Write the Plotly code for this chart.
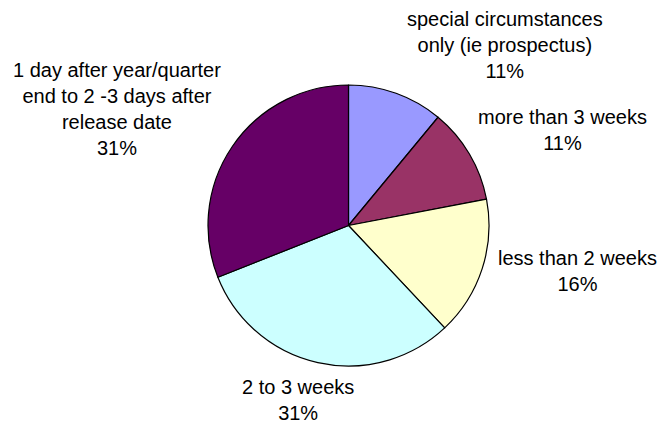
import plotly.graph_objects as go

# Timing of disclosure responses (share of respondents, %)
categories = [
    "special circumstances<br>only (ie prospectus)",
    "more than 3 weeks",
    "less than 2 weeks",
    "2 to 3 weeks",
    "1 day after year/quarter<br>end to 2 -3 days after<br>release date",
]
shares = [11, 11, 16, 31, 31]
colors = ["#9999FF", "#993366", "#FFFFCC", "#CCFFFF", "#660066"]

# Label anchor points (pixel positions) for each category's text block
label_x = [505, 562, 577, 298, 117]
label_y = [45, 130, 271, 400, 109]

W, H = 663, 426
cx, cy, r = 348.5, 225.5, 140.5

fig = go.Figure(
    go.Pie(
        labels=categories,
        values=shares,
        sort=False,
        direction="clockwise",
        rotation=0,
        marker=dict(colors=colors, line=dict(color="#000000", width=1.2)),
        textinfo="none",
        hoverinfo="label+percent",
        showlegend=False,
        domain=dict(x=[(cx - r) / W, (cx + r) / W], y=[1 - (cy + r) / H, 1 - (cy - r) / H]),
    )
)

for cat, v, lx, ly in zip(categories, shares, label_x, label_y):
    fig.add_annotation(
        x=lx / W, y=1 - ly / H, xref="paper", yref="paper",
        text=f"{cat}<br>{v}%", showarrow=False,
        xanchor="center", yanchor="middle", align="center",
        font=dict(family="Liberation Sans, Arial, sans-serif", size=20, color="#000000"),
    )

fig.update_layout(
    width=W, height=H,
    margin=dict(l=0, r=0, t=0, b=0),
    paper_bgcolor="#FFFFFF",
    plot_bgcolor="#FFFFFF",
)

fig.write_html("out.html")
